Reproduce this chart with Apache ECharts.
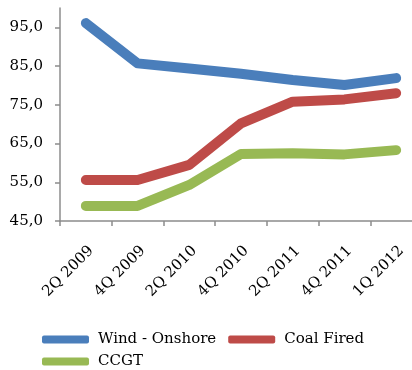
<!DOCTYPE html>
<html>
<head>
<meta charset="utf-8">
<script src="https://cdn.jsdelivr.net/npm/echarts@6/dist/echarts.min.js"></script>
<style>
  html, body { margin: 0; padding: 0; background: #fff; }
  #chart { width: 412px; height: 370px; }
</style>
</head>
<body>
<div id="chart"></div>
<script>
// Quarterly cost index by generation technology
const categories = ['2Q 2009', '4Q 2009', '2Q 2010', '4Q 2010', '2Q 2011', '4Q 2011', '1Q 2012'];
const windOnshore = [96.1, 85.7, 84.4, 83.0, 81.4, 80.1, 81.9];
const coalFired   = [55.6, 55.6, 59.5, 70.2, 75.8, 76.4, 78.0];
const ccgt        = [48.9, 48.9, 54.3, 62.3, 62.5, 62.2, 63.3];

const fontFamily = '"DejaVu Serif", "Liberation Serif", serif';
const axisColor = '#8c8c8c';

function lineSeries(name, data, color) {
  return {
    name: name,
    type: 'line',
    data: data,
    symbol: 'none',
    color: color,
    lineStyle: { width: 10, color: color, cap: 'round', join: 'round' }
  };
}

// Shared legend look: thick rounded line swatches, serif text
function legendRow(names, left, top) {
  return {
    data: names,
    left: left,
    top: top,
    orient: 'horizontal',
    itemWidth: 47,
    itemHeight: 8,
    itemGap: 12,
    icon: 'roundRect',
    lineStyle: { width: 8, cap: 'round' },
    textStyle: { color: '#000', fontFamily: fontFamily, fontSize: 15, padding: [0, 0, 0, 4] }
  };
}

const chart = echarts.init(document.getElementById('chart'), null, { renderer: 'canvas' });
chart.setOption({
  animation: false,
  backgroundColor: '#ffffff',
  grid: { left: 60, right: -10, top: 8, bottom: 149, outerBoundsMode: 'none' },
  xAxis: {
    type: 'category',
    data: categories,
    boundaryGap: true,
    axisLine: { show: true, lineStyle: { color: axisColor, width: 1.5 } },
    axisTick: { show: true, length: 5, lineStyle: { color: axisColor, width: 1.5 } },
    axisLabel: {
      rotate: 45,
      margin: 8,
      align: 'right',
      verticalAlign: 'top',
      padding: [10, 10, 0, 0],
      color: '#000',
      fontFamily: fontFamily,
      fontSize: 15
    },
    splitLine: { show: false }
  },
  yAxis: {
    type: 'value',
    min: 45,
    max: 100,
    interval: 10,
    axisLine: { show: true, lineStyle: { color: axisColor, width: 1.5 } },
    axisTick: { show: true, length: 5, lineStyle: { color: axisColor, width: 1.5 } },
    axisLabel: {
      showMaxLabel: false,
      margin: 17,
      color: '#000',
      fontFamily: fontFamily,
      fontSize: 15,
      formatter: v => v.toFixed(1).replace('.', ',')
    },
    splitLine: { show: false }
  },
  legend: [
    legendRow(['Wind - Onshore', 'Coal Fired'], 37, 327),
    legendRow(['CCGT'], 37, 349)
  ],
  series: [
    lineSeries('Wind - Onshore', windOnshore, '#4a7ebb'),
    lineSeries('Coal Fired', coalFired, '#be4b48'),
    lineSeries('CCGT', ccgt, '#98b954')
  ]
});
</script>
</body>
</html>
